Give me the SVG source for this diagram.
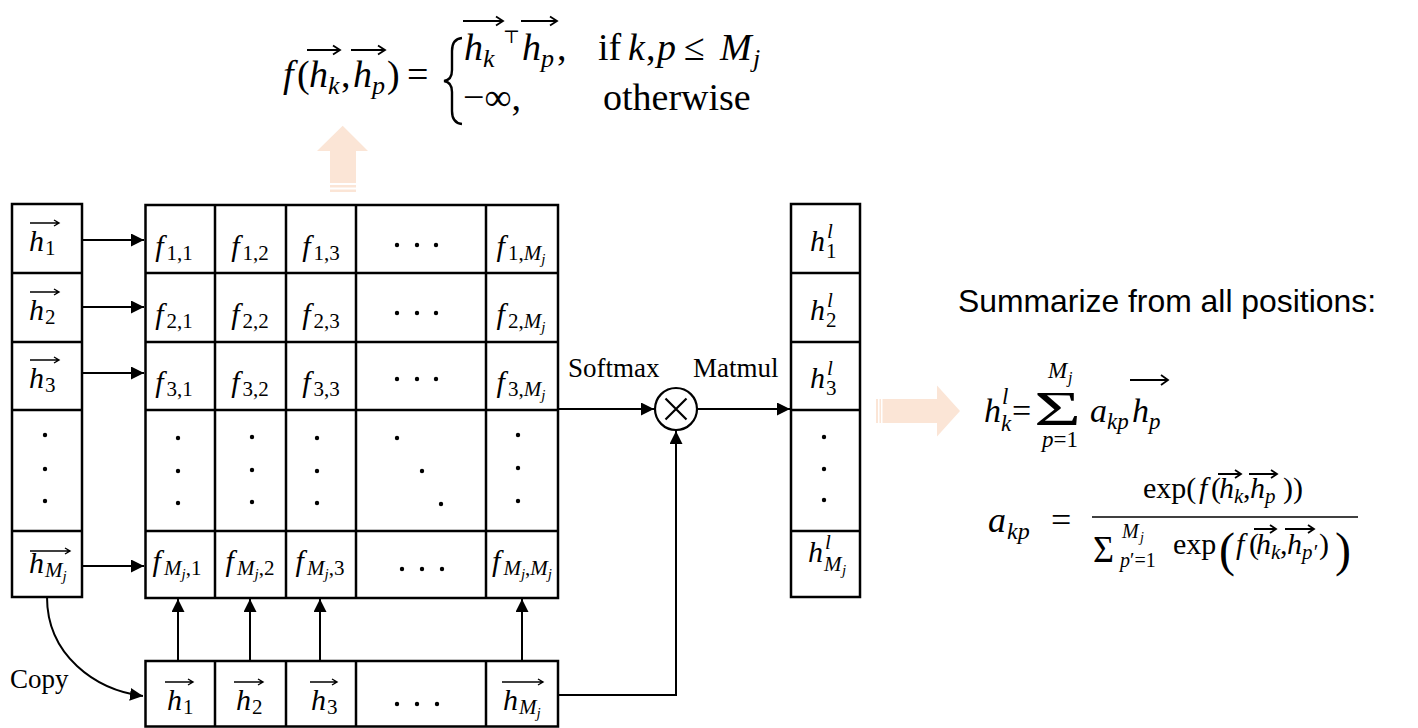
<svg xmlns="http://www.w3.org/2000/svg" width="1418" height="728" viewBox="0 0 1418 728">
<style>
.bx{fill:#fff;stroke:#000;stroke-width:2.5}
.ln{fill:none;stroke:#000;stroke-width:2.5}
.cn{fill:none;stroke:#000;stroke-width:2}
.mi{font-family:"Liberation Serif",serif;font-style:italic;font-size:30px;fill:#000}
.c{text-anchor:middle}
.sb{font-size:21px;font-style:normal}
.si{font-size:21px;font-style:italic}
.ss{font-size:15px;font-style:italic}
.va{fill:none;stroke:#000;stroke-width:1.4}
.vt{fill:none;stroke:#000;stroke-width:1.8}
.lab{font-family:"Liberation Serif",serif;font-size:27px;fill:#000}
.fm{font-family:"Liberation Serif",serif;font-size:38px;fill:#000}
.fr{font-family:"Liberation Serif",serif;font-size:34px;fill:#000}
.fn{font-family:"Liberation Serif",serif;font-size:30px;fill:#000}
.it{font-style:italic}
.or{fill:#FBE5D6}
</style>
<defs>
<marker id="ah" markerWidth="14" markerHeight="14" refX="13" refY="6.5" orient="auto" markerUnits="userSpaceOnUse"><path d="M0,0 L13,6.5 L0,13 z" fill="#000"/></marker>
</defs>
<rect width="1418" height="728" fill="#fff"/>

<g id="formula-f">
<text class="fm it" x="283" y="87">f</text>
<text class="fm" x="297" y="87">(</text>
<text class="fm it" x="309" y="87">h</text>
<text class="fm it" x="328" y="94" style="font-size:26px">k</text>
<text class="fm" x="341" y="87">,</text>
<text class="fm it" x="353" y="87">h</text>
<text class="fm it" x="372" y="94" style="font-size:26px">p</text>
<text class="fm" x="387" y="87">)</text>
<text class="fm" x="407" y="87">=</text>
<path class="vt" d="M307 50H340M333 45.5L340 50L333 54.5M351 50H385M378 45.5L385 50L378 54.5"/>
<path d="M462 38Q452 39 452 51L452 70Q452 80 444 81Q452 82 452 92L452 111Q452 123 462 124" fill="none" stroke="#000" stroke-width="2.4"/>
<text class="fm it" x="464" y="60">h</text>
<text class="fm it" x="483" y="67" style="font-size:26px">k</text>
<text x="503" y="43" font-family="DejaVu Serif,serif" font-size="18">⊤</text>
<text class="fm it" x="522" y="60">h</text>
<text class="fm it" x="541" y="67" style="font-size:26px">p</text>
<text class="fm" x="557" y="60">,</text>
<path class="vt" d="M463 21H503M496 16.5L503 21L496 25.5M521 21H557M550 16.5L557 21L550 25.5"/>
<text class="fm" x="598" y="60">if</text>
<text class="fm it" x="628" y="60">k</text>
<text class="fm" x="646" y="60">,</text>
<text class="fm it" x="657" y="60">p</text>
<text class="fm" x="684" y="60">≤</text>
<text class="fm it" x="720" y="60">M</text>
<text class="fm it" x="753" y="67" style="font-size:26px">j</text>
<text class="fm" x="463" y="110">−∞,</text>
<text class="fm" x="603" y="110">otherwise</text>
</g>

<g id="up-arrow">
<polygon class="or" points="342.7,125.7 368,151 356,151 356,183 330,183 330,151 317,151"/>
<rect class="or" x="330" y="185" width="26" height="2.5"/>
<rect class="or" x="330" y="189.5" width="26" height="2.5"/>
</g>

<g id="left-column">
<rect class="bx" x="12" y="204" width="70" height="393"/>
<path class="ln" d="M12 273H82M12 342H82M12 410H82M12 531H82"/>
<text class="mi" x="29" y="251">h<tspan class="sb" dx="1" dy="4">1</tspan></text>
<path class="va" d="M30 223H59M54 220L59 223L54 226"/>
<text class="mi" x="29" y="320">h<tspan class="sb" dx="1" dy="4">2</tspan></text>
<path class="va" d="M30 292H59M54 289L59 292L54 295"/>
<text class="mi" x="29" y="388">h<tspan class="sb" dx="1" dy="4">3</tspan></text>
<path class="va" d="M30 360H59M54 357L59 360L54 363"/>
<circle cx="45" cy="435" r="2.2"/><circle cx="45" cy="469" r="2.2"/><circle cx="45" cy="501" r="2.2"/>
<text class="mi" x="29" y="573">h<tspan class="si" dx="1" dy="4">M</tspan><tspan class="ss" dy="4">j</tspan></text>
<path class="va" d="M30 551H70M65 548L70 551L65 554"/>
</g>

<g id="score-matrix">
<rect class="bx" x="145.5" y="205" width="412.5" height="393"/>
<path class="ln" d="M145.5 273H558M145.5 342H558M145.5 410H558M145.5 531H558M215 205V598M286 205V598M356 205V598M486 205V598"/>
<text class="mi c" x="174" y="256">f<tspan class="sb" dx="3" dy="4">1,1</tspan></text>
<text class="mi c" x="250" y="256">f<tspan class="sb" dx="3" dy="4">1,2</tspan></text>
<text class="mi c" x="321" y="256">f<tspan class="sb" dx="3" dy="4">1,3</tspan></text>
<circle cx="397" cy="245" r="2.2"/><circle cx="417" cy="245" r="2.2"/><circle cx="436" cy="245" r="2.2"/>
<text class="mi c" x="521" y="256">f<tspan class="sb" dx="3" dy="4">1,</tspan><tspan class="si">M</tspan><tspan class="ss" dy="4">j</tspan></text>
<text class="mi c" x="174" y="324">f<tspan class="sb" dx="3" dy="4">2,1</tspan></text>
<text class="mi c" x="250" y="324">f<tspan class="sb" dx="3" dy="4">2,2</tspan></text>
<text class="mi c" x="321" y="324">f<tspan class="sb" dx="3" dy="4">2,3</tspan></text>
<circle cx="397" cy="313" r="2.2"/><circle cx="417" cy="313" r="2.2"/><circle cx="436" cy="313" r="2.2"/>
<text class="mi c" x="521" y="324">f<tspan class="sb" dx="3" dy="4">2,</tspan><tspan class="si">M</tspan><tspan class="ss" dy="4">j</tspan></text>
<text class="mi c" x="174" y="392">f<tspan class="sb" dx="3" dy="4">3,1</tspan></text>
<text class="mi c" x="250" y="392">f<tspan class="sb" dx="3" dy="4">3,2</tspan></text>
<text class="mi c" x="321" y="392">f<tspan class="sb" dx="3" dy="4">3,3</tspan></text>
<circle cx="397" cy="379" r="2.2"/><circle cx="417" cy="379" r="2.2"/><circle cx="436" cy="379" r="2.2"/>
<text class="mi c" x="521" y="392">f<tspan class="sb" dx="3" dy="4">3,</tspan><tspan class="si">M</tspan><tspan class="ss" dy="4">j</tspan></text>
<circle cx="178" cy="438" r="2.2"/><circle cx="178" cy="471" r="2.2"/><circle cx="178" cy="503" r="2.2"/>
<circle cx="252" cy="437" r="2.2"/><circle cx="252" cy="470" r="2.2"/><circle cx="252" cy="502" r="2.2"/>
<circle cx="317" cy="438" r="2.2"/><circle cx="317" cy="471" r="2.2"/><circle cx="317" cy="503" r="2.2"/>
<circle cx="397" cy="438" r="2.2"/><circle cx="422" cy="471" r="2.2"/><circle cx="441" cy="504" r="2.2"/>
<circle cx="518" cy="435" r="2.2"/><circle cx="518" cy="468" r="2.2"/><circle cx="518" cy="501" r="2.2"/>
<text class="mi c" x="177" y="571">f<tspan class="si" dx="3" dy="4">M</tspan><tspan class="ss" dy="4">j</tspan><tspan class="sb" dy="-4">,1</tspan></text>
<text class="mi c" x="250" y="571">f<tspan class="si" dx="3" dy="4">M</tspan><tspan class="ss" dy="4">j</tspan><tspan class="sb" dy="-4">,2</tspan></text>
<text class="mi c" x="320" y="571">f<tspan class="si" dx="3" dy="4">M</tspan><tspan class="ss" dy="4">j</tspan><tspan class="sb" dy="-4">,3</tspan></text>
<circle cx="402" cy="569" r="2.2"/><circle cx="422" cy="569" r="2.2"/><circle cx="442" cy="569" r="2.2"/>
<text class="mi c" x="522" y="571">f<tspan class="si" dx="3" dy="4">M</tspan><tspan class="ss" dy="4">j</tspan><tspan class="sb" dy="-4">,</tspan><tspan class="si">M</tspan><tspan class="ss" dy="4">j</tspan></text>
</g>

<g id="copy-row">
<rect class="bx" x="145.5" y="661" width="412.5" height="65.5"/>
<path class="ln" d="M215 661V726.5M286 661V726.5M356 661V726.5M486 661V726.5"/>
<text class="mi" x="167" y="710">h<tspan class="sb" dx="1" dy="4">1</tspan></text>
<path class="va" d="M165 682H193M188 679L193 682L188 685"/>
<text class="mi" x="236" y="710">h<tspan class="sb" dx="1" dy="4">2</tspan></text>
<path class="va" d="M234 682H263M258 679L263 682L258 685"/>
<text class="mi" x="311" y="710">h<tspan class="sb" dx="1" dy="4">3</tspan></text>
<path class="va" d="M310 682H337M332 679L337 682L332 685"/>
<circle cx="397" cy="704" r="2.2"/><circle cx="417" cy="704" r="2.2"/><circle cx="437" cy="704" r="2.2"/>
<text class="mi" x="503" y="710">h<tspan class="si" dx="1" dy="4">M</tspan><tspan class="ss" dy="4">j</tspan></text>
<path class="va" d="M502 682H543M538 679L543 682L538 685"/>
</g>

<g id="output-column">
<rect class="bx" x="791" y="204" width="69" height="393"/>
<path class="ln" d="M791 273H860M791 342H860M791 410H860M791 531H860"/>
<text class="mi" x="810" y="251">h</text><text class="mi" x="827" y="238" style="font-size:21px">l</text><text class="mi" x="826" y="258" style="font-size:21px;font-style:normal">1</text>
<text class="mi" x="810" y="320">h</text><text class="mi" x="827" y="307" style="font-size:21px">l</text><text class="mi" x="826" y="327" style="font-size:21px;font-style:normal">2</text>
<text class="mi" x="810" y="388">h</text><text class="mi" x="827" y="375" style="font-size:21px">l</text><text class="mi" x="826" y="395" style="font-size:21px;font-style:normal">3</text>
<circle cx="824" cy="437" r="2.2"/><circle cx="824" cy="469" r="2.2"/><circle cx="824" cy="500" r="2.2"/>
<text class="mi" x="808" y="562">h</text><text class="mi" x="825" y="549" style="font-size:21px">l</text><text class="mi" x="824" y="571" style="font-size:21px">M</text><text class="mi" x="842" y="575" style="font-size:15px">j</text>
</g>

<g id="matmul-op">
<circle cx="676" cy="409" r="21" fill="#fff" stroke="#000" stroke-width="2.2"/>
<path d="M665.5 398.5L686.5 419.5M686.5 398.5L665.5 419.5" stroke="#000" stroke-width="2.2"/>
</g>

<g id="connectors">
<line class="cn" x1="82" y1="240" x2="144" y2="240" marker-end="url(#ah)"/>
<line class="cn" x1="82" y1="307" x2="144" y2="307" marker-end="url(#ah)"/>
<line class="cn" x1="82" y1="373" x2="144" y2="373" marker-end="url(#ah)"/>
<line class="cn" x1="82" y1="566" x2="144" y2="566" marker-end="url(#ah)"/>
<line class="cn" x1="178" y1="661" x2="178" y2="599" marker-end="url(#ah)"/>
<line class="cn" x1="250" y1="661" x2="250" y2="599" marker-end="url(#ah)"/>
<line class="cn" x1="320" y1="661" x2="320" y2="599" marker-end="url(#ah)"/>
<line class="cn" x1="522" y1="661" x2="522" y2="599" marker-end="url(#ah)"/>
<line class="cn" x1="558" y1="409" x2="654" y2="409" marker-end="url(#ah)"/>
<line class="cn" x1="697" y1="409" x2="790" y2="409" marker-end="url(#ah)"/>
<path class="cn" d="M558 695H676V431" marker-end="url(#ah)"/>
<path class="cn" d="M47 597C47 655 95 690 143 696" marker-end="url(#ah)"/>
<text class="lab" x="568" y="377">Softmax</text>
<text class="lab" x="693" y="377">Matmul</text>
<text class="lab" x="10" y="688">Copy</text>
</g>

<g id="right-arrow">
<polygon class="or" points="960,411 937,436.5 937,423 882.5,423 882.5,399 937,399 937,385.5"/>
<rect class="or" x="876" y="399" width="2" height="24"/>
<rect class="or" x="879.5" y="399" width="1.5" height="24"/>
</g>

<g id="summary">
<text x="958" y="312" font-family="Liberation Sans,sans-serif" font-size="32" textLength="418" lengthAdjust="spacingAndGlyphs">Summarize from all positions:</text>
<text class="fr it" x="984" y="422">h</text>
<text class="fr it" x="1002" y="404" style="font-size:23px">l</text>
<text class="fr it" x="1001" y="431" style="font-size:23px">k</text>
<text class="fr" x="1012" y="422">=</text>
<text class="fr" x="1034" y="425" style="font-size:48px" textLength="47" lengthAdjust="spacingAndGlyphs">Σ</text>
<text class="fr it" x="1048" y="378" style="font-size:23px">M</text>
<text class="fr it" x="1068" y="383" style="font-size:16px">j</text>
<text class="fr c" x="1060" y="447" style="font-size:23px"><tspan class="it">p</tspan>=1</text>
<text class="fr it" x="1090" y="422">a</text>
<text class="fr it" x="1107" y="429" style="font-size:23px">kp</text>
<text class="fr it" x="1132" y="422">h</text>
<text class="fr it" x="1149" y="429" style="font-size:23px">p</text>
<path class="vt" d="M1130 380H1168M1161 375L1168 380L1161 385"/>

<text class="fr it" x="988" y="532" style="font-size:36px">a</text>
<text class="fr it" x="1007" y="539" style="font-size:24px">kp</text>
<text class="fr" x="1051" y="532" style="font-size:36px">=</text>
<line x1="1092" y1="517" x2="1358" y2="517" stroke="#000" stroke-width="1.6"/>
<text class="fn" x="1143" y="498">exp(</text>
<text class="fn it" x="1199" y="498">f</text>
<text class="fn" x="1211" y="498">(</text>
<text class="fn it" x="1219" y="498">h</text>
<text class="fn it" x="1234" y="503" style="font-size:21px">k</text>
<text class="fn" x="1243" y="498">,</text>
<text class="fn it" x="1250" y="498">h</text>
<text class="fn it" x="1265" y="503" style="font-size:21px">p</text>
<text class="fn" x="1283" y="498">))</text>
<path class="vt" d="M1218 474H1241M1235 470L1241 474L1235 478M1249 474H1277M1271 470L1277 474L1271 478"/>
<text class="fn" x="1093" y="562" style="font-size:38px" textLength="21" lengthAdjust="spacingAndGlyphs">Σ</text>
<text class="fn it" x="1122" y="538" style="font-size:20px">M</text>
<text class="fn it" x="1140" y="542" style="font-size:14px">j</text>
<text class="fn" x="1120" y="567" style="font-size:20px"><tspan class="it">p</tspan>′=1</text>
<text class="fn" x="1173" y="554">exp</text>
<text class="fn" x="1219" y="566" style="font-size:48px">(</text>
<text class="fn it" x="1236" y="554">f</text>
<text class="fn" x="1249" y="554">(</text>
<text class="fn it" x="1256" y="554">h</text>
<text class="fn it" x="1271" y="559" style="font-size:21px">k</text>
<text class="fn" x="1280" y="554">,</text>
<text class="fn it" x="1287" y="554">h</text>
<text class="fn it" x="1302" y="559" style="font-size:21px">p′</text>
<text class="fn" x="1319" y="554">)</text>
<text class="fn" x="1335" y="566" style="font-size:48px">)</text>
<path class="vt" d="M1254 529H1276M1270 525L1276 529L1270 533M1285 529H1314M1308 525L1314 529L1308 533"/>
</g>
</svg>
